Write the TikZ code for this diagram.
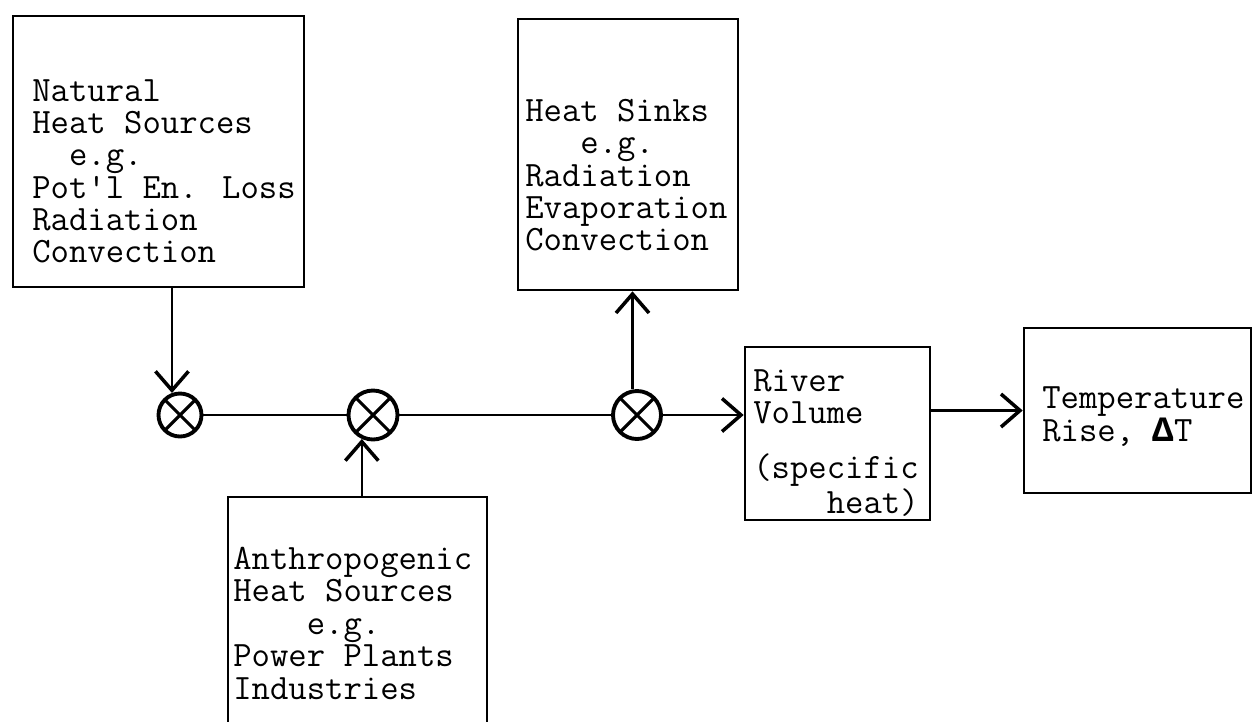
\documentclass[tikz,border=0pt]{standalone}
\usepackage{fontspec}
\newfontfamily\deltafont{Liberation Mono}
\usetikzlibrary{arrows.meta}

\begin{document}
\begin{tikzpicture}[>={Straight Barb[length=3.8mm,width=6.6mm,line width=2pt]},
  blk/.style={draw,line width=1.5pt,inner sep=0pt},
  sum/.style={circle,draw,line width=2.2pt,inner sep=0pt,
    path picture={\draw[line width=1.8pt]
      (path picture bounding box.north west) -- (path picture bounding box.south east)
      (path picture bounding box.north east) -- (path picture bounding box.south west);}},
  txt/.style={anchor=north west,align=left,inner sep=0pt,
    font=\ttfamily\fontsize{20.3}{18.4}\selectfont},
  con/.style={line width=1.3pt}]
\useasboundingbox (0,0) rectangle (25.06,-14.42);
\clip (0,0) rectangle (25.06,-14.42);

% boxes
\node[blk,minimum width=5.82cm,minimum height=5.42cm] (nat) at (3.17,-3.03) {};
\node[blk,minimum width=4.40cm,minimum height=5.42cm] (sink) at (12.56,-3.09) {};
\node[blk,minimum width=3.70cm,minimum height=3.46cm] (river) at (16.75,-8.67) {};
\node[blk,minimum width=4.54cm,minimum height=3.30cm] (temp) at (22.75,-8.21) {};
\node[blk,minimum width=5.18cm,minimum height=5.06cm] (anth) at (7.15,-12.47) {};

% box texts
\node[txt] (natT) at (0.64,-1.58) {Natural\\Heat Sources\\~~e.g.\\Pot\textquotesingle l En. Loss\\Radiation\\Convection};
\node[txt] (sinkT) at (10.50,-1.98) {Heat Sinks\\~~~e.g.\\Radiation\\Evaporation\\Convection};
\node[txt] (riverT) at (15.06,-7.38) {River\\Volume\\[13pt](specific\\~~~~heat)};
\node[txt,font=\ttfamily\fontsize{20.3}{19}\selectfont] (tempT) at (20.84,-7.72) {Temperature\\Rise, {\deltafont\bfseries Δ}T};
\node[txt] (anthT) at (4.66,-10.94) {Anthropogenic\\Heat Sources\\~~~~e.g.\\Power Plants\\Industries};

% summing points
\node[sum,minimum size=0.86cm] (s1) at (3.60,-8.30) {};
\node[sum,minimum size=0.98cm] (s2) at (7.46,-8.30) {};
\node[sum,minimum size=0.96cm] (s3) at (12.74,-8.30) {};

\draw[con,->] (s1.110 |- nat.south) -- (s1.110);
\draw[con] (s1.east) -- (s2.west);
\draw[con] (s2.east) -- (s3.west);
\draw[con,->] (s2.245 |- anth.north) -- (s2.245);
\draw[con,->] (s3.100) -- (s3.100 |- sink.south);
\draw[con,->] (s3.east) -- (s3.east -| river.west);
\draw[con,->] (river.east |- temp.west) -- (temp.west);
\end{tikzpicture}
\end{document}
